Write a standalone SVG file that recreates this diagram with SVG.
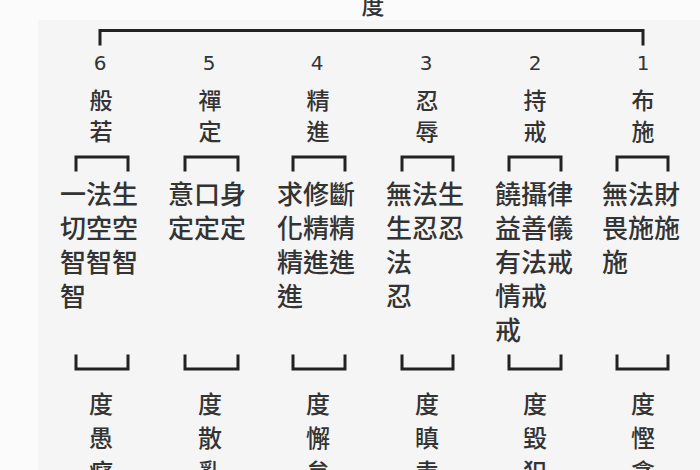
<svg xmlns="http://www.w3.org/2000/svg" width="700" height="470" viewBox="0 0 700 470">
<style>
.bg{fill:#f5f5f5}
.t{font-family:"Noto Sans CJK TC","Noto Sans CJK JP",sans-serif;font-weight:500;fill:#333;dominant-baseline:central}
.h{font-size:23px;text-anchor:middle}
.n{font-family:"DejaVu Sans","Noto Sans",sans-serif;font-size:20px;fill:#333;text-anchor:middle;dominant-baseline:central}
.b{font-size:26px;text-anchor:start}
.d{font-size:24px;text-anchor:middle}
.ln{fill:none;stroke:#222;stroke-width:3;stroke-linecap:square}
</style>
<rect class="bg" x="0" y="0" width="700" height="470"/>
<rect x="0" y="0" width="700" height="20" fill="#fbfbfb"/>
<rect x="0" y="0" width="38" height="470" fill="#fbfbfb"/>

<g id="connectors">
<path class="ln" d="M100 44 V30.5 H643 V44"/>
<path class="ln" d="M76 170 V157 H128 V170"/>
<path class="ln" d="M185 170 V157 H238 V170"/>
<path class="ln" d="M293 170 V157 H345 V170"/>
<path class="ln" d="M402 170 V157 H453 V170"/>
<path class="ln" d="M509 170 V157 H561 V170"/>
<path class="ln" d="M617 170 V157 H668 V170"/>
<path class="ln" d="M76 356 V369 H128 V356"/>
<path class="ln" d="M185 356 V369 H238 V356"/>
<path class="ln" d="M293 356 V369 H345 V356"/>
<path class="ln" d="M402 356 V369 H453 V356"/>
<path class="ln" d="M509 356 V369 H561 V356"/>
<path class="ln" d="M617 356 V369 H668 V356"/>
</g>

<g id="root"><text class="t h" x="373" y="4">度</text></g>

<g id="p6">
<text class="n" x="100" y="63">6</text>
<text class="t h" x="101" y="99">般</text>
<text class="t h" x="101" y="130">若</text>
<text class="t b" x="60" y="192">一法生</text>
<text class="t b" x="60" y="226">切空空</text>
<text class="t b" x="60" y="260">智智智</text>
<text class="t b" x="60" y="294">智</text>
<text class="t d" x="101" y="402">度</text>
<text class="t d" x="101" y="436">愚</text>
<text class="t d" x="101" y="470">癡</text>
</g>

<g id="p5">
<text class="n" x="209" y="63">5</text>
<text class="t h" x="210" y="99">禪</text>
<text class="t h" x="210" y="130">定</text>
<text class="t b" x="168" y="192">意口身</text>
<text class="t b" x="168" y="226">定定定</text>
<text class="t d" x="210" y="402">度</text>
<text class="t d" x="210" y="436">散</text>
<text class="t d" x="210" y="470">亂</text>
</g>

<g id="p4">
<text class="n" x="317" y="63">4</text>
<text class="t h" x="318" y="99">精</text>
<text class="t h" x="318" y="130">進</text>
<text class="t b" x="277" y="192">求修斷</text>
<text class="t b" x="277" y="226">化精精</text>
<text class="t b" x="277" y="260">精進進</text>
<text class="t b" x="277" y="294">進</text>
<text class="t d" x="318" y="402">度</text>
<text class="t d" x="318" y="436">懈</text>
<text class="t d" x="318" y="470">怠</text>
</g>

<g id="p3">
<text class="n" x="426" y="63">3</text>
<text class="t h" x="427" y="99">忍</text>
<text class="t h" x="427" y="130">辱</text>
<text class="t b" x="386" y="192">無法生</text>
<text class="t b" x="386" y="226">生忍忍</text>
<text class="t b" x="386" y="260">法</text>
<text class="t b" x="386" y="294">忍</text>
<text class="t d" x="427" y="402">度</text>
<text class="t d" x="427" y="436">瞋</text>
<text class="t d" x="427" y="470">恚</text>
</g>

<g id="p2">
<text class="n" x="535" y="63">2</text>
<text class="t h" x="535" y="99">持</text>
<text class="t h" x="535" y="130">戒</text>
<text class="t b" x="495" y="192">饒攝律</text>
<text class="t b" x="495" y="226">益善儀</text>
<text class="t b" x="495" y="260">有法戒</text>
<text class="t b" x="495" y="294">情戒</text>
<text class="t b" x="495" y="328">戒</text>
<text class="t d" x="535" y="402">度</text>
<text class="t d" x="535" y="436">毀</text>
<text class="t d" x="535" y="470">犯</text>
</g>

<g id="p1">
<text class="n" x="643" y="63">1</text>
<text class="t h" x="643" y="99">布</text>
<text class="t h" x="643" y="130">施</text>
<text class="t b" x="602" y="192">無法財</text>
<text class="t b" x="602" y="226">畏施施</text>
<text class="t b" x="602" y="260">施</text>
<text class="t d" x="643" y="402">度</text>
<text class="t d" x="643" y="436">慳</text>
<text class="t d" x="643" y="470">貪</text>
</g>
</svg>
